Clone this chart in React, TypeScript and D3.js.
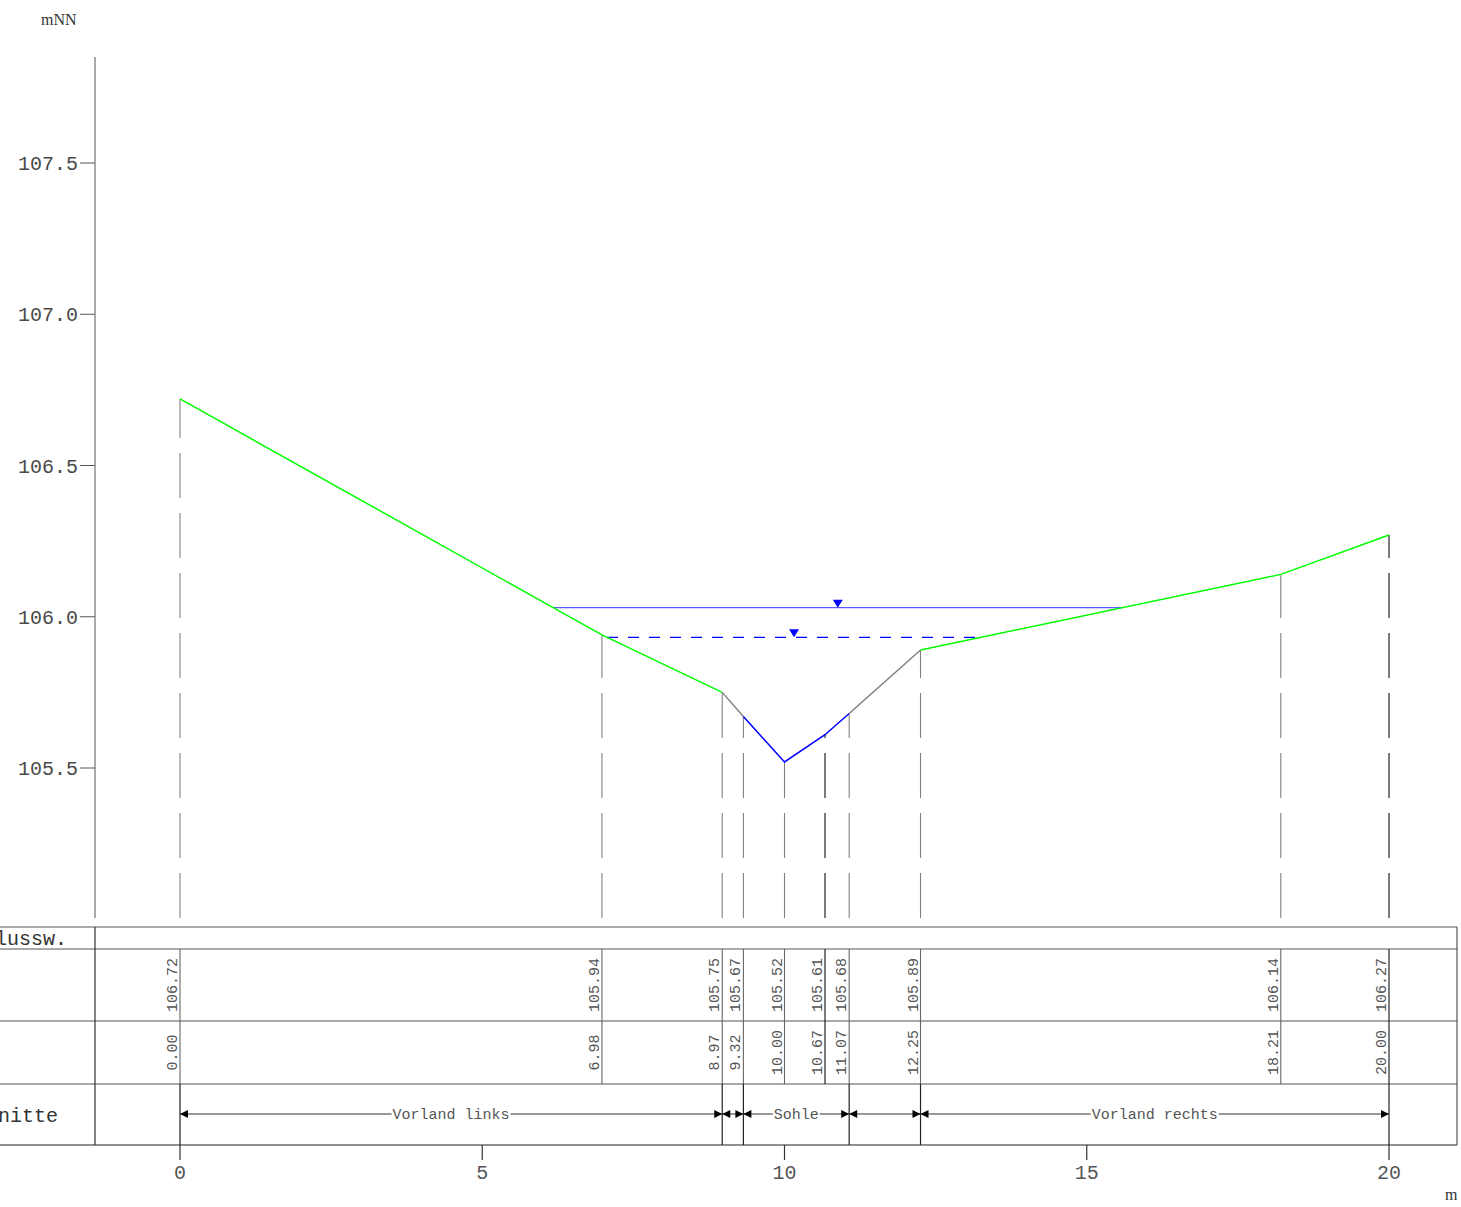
import React from "react";
import * as d3 from "d3";

const stations = [0, 6.98, 8.97, 9.32, 10.0, 10.67, 11.07, 12.25, 18.21, 20.0];
const elevations = [106.72, 105.94, 105.75, 105.67, 105.52, 105.61, 105.68, 105.89, 106.14, 106.27];
const sectionBounds = [0, 8.97, 9.32, 11.07, 12.25, 20];
const sectionNames = ["Vorland links", "", "Sohle", "", "Vorland rechts"];
const waterLevels = [106.03, 105.932];
const yTicks = [105.5, 106.0, 106.5, 107.0, 107.5];
const xTicks = [0, 5, 10, 15, 20];
const rowLabels = ["Flussw.", "", "", "Abschnitte"];

// styles
const sectionColors = ["#00ff00", "#808080", "#0000ff", "#808080", "#00ff00"];
const waterStyles = [
  { stroke: "#5a5aff", dash: "none" },
  { stroke: "#0000ff", dash: "11 10" },
];
const darkStations = [10.67, 20.0];
const MONO = "'Liberation Mono', 'DejaVu Sans Mono', monospace";
const SERIF = "'Liberation Serif', 'DejaVu Serif', serif";

const W = 1461;
const H = 1207;
const axisX = 95;
const axisTop = 57;
const plotBottom = 918;
const rowY = [927, 949, 1021, 1084, 1145];
const tableRight = 1457;
const rowLabelEnd = [67, 0, 0, 58];

function crossing(level: number) {
  const minI = d3.minIndex(elevations);
  let left = stations[0];
  for (let i = minI; i > 0; i--) {
    if (elevations[i - 1] >= level) {
      const t = (level - elevations[i]) / (elevations[i - 1] - elevations[i]);
      left = stations[i] + t * (stations[i - 1] - stations[i]);
      break;
    }
  }
  let right = stations[stations.length - 1];
  for (let i = minI; i < stations.length - 1; i++) {
    if (elevations[i + 1] >= level) {
      const t = (level - elevations[i]) / (elevations[i + 1] - elevations[i]);
      right = stations[i] + t * (stations[i + 1] - stations[i]);
      break;
    }
  }
  return [left, right];
}

export default function App() {
  const x = d3.scaleLinear().domain([0, 20]).range([180, 1389]);
  const y = d3.scaleLinear().domain([105.5, 107.5]).range([768, 163]);
  const line = d3
    .line<[number, number]>()
    .x((d) => x(d[0]))
    .y((d) => y(d[1]));

  const pts: [number, number][] = stations.map((s, i) => [s, elevations[i]]);

  const arrowY = 1114;
  const ah = 8;
  const aw = 4;

  return (
    <svg
      width={W}
      height={H}
      style={{ position: "absolute", left: 0, top: 0, background: "#fff" }}
    >
      <rect x={0} y={0} width={W} height={H} fill="#fff" />
      {/* y axis */}
      <line x1={axisX} y1={axisTop} x2={axisX} y2={plotBottom} stroke="#555" strokeWidth={1} />
      <text x={41} y={25} fontFamily={SERIF} fontSize={16} fill="#333">
        mNN
      </text>
      {yTicks.map((t) => (
        <g key={t}>
          <line x1={80} x2={axisX} y1={y(t)} y2={y(t)} stroke="#555" />
          <text
            x={78}
            y={y(t)}
            dy="0.35em"
            textAnchor="end"
            fontFamily={MONO}
            fontSize={20}
            fill="#4a4a4a"
          >
            {t.toFixed(1)}
          </text>
        </g>
      ))}

      {/* station vertical dashed lines */}
      {stations.map((s, i) => (
        <path
          key={"v" + s}
          d={`M${x(s)},${plotBottom} L${x(s)},${y(elevations[i])}`}
          stroke={darkStations.includes(s) ? "#111" : "#808080"}
          strokeWidth={1.1}
          strokeDasharray="45 15"
          fill="none"
        />
      ))}

      {/* water levels */}
      {waterLevels.map((w, i) => {
        const [l, r] = crossing(w);
        const mx = x((l + r) / 2);
        const yy = y(w);
        return (
          <g key={"w" + i}>
            <line
              x1={x(l)}
              x2={x(r)}
              y1={yy}
              y2={yy}
              stroke={waterStyles[i].stroke}
              strokeWidth={1.2}
              strokeDasharray={waterStyles[i].dash}
            />
            <path d={`M${mx - 5},${yy - 8} L${mx + 5},${yy - 8} L${mx},${yy} Z`} fill="#0000ff" />
          </g>
        );
      })}

      {/* ground */}
      {sectionNames.map((_, si) => {
        const a = sectionBounds[si];
        const b = sectionBounds[si + 1];
        const seg = pts.filter((p) => p[0] >= a - 1e-9 && p[0] <= b + 1e-9);
        return (
          <path
            key={"g" + si}
            d={line(seg) || ""}
            stroke={sectionColors[si]}
            strokeWidth={1.5}
            fill="none"
          />
        );
      })}

      {/* table */}
      {rowY.map((ry, i) => (
        <line
          key={"h" + i}
          x1={0}
          x2={tableRight}
          y1={ry}
          y2={ry}
          stroke={i === rowY.length - 1 ? "#222" : "#555"}
          strokeWidth={1.2}
        />
      ))}
      <line x1={tableRight} x2={tableRight} y1={rowY[0]} y2={rowY[4]} stroke="#555" strokeWidth={1.2} />
      <line x1={axisX} x2={axisX} y1={rowY[0]} y2={rowY[4]} stroke="#333" strokeWidth={1.2} />
      {rowLabels.map((lab, i) =>
        lab ? (
          <text
            key={"rl" + i}
            x={rowLabelEnd[i]}
            y={(rowY[i] + rowY[i + 1]) / 2}
            dy="0.35em"
            textAnchor="end"
            fontFamily={MONO}
            fontSize={20}
            fill="#333"
          >
            {lab}
          </text>
        ) : null
      )}
      {stations.map((s, i) => (
        <g key={"t" + s}>
          <line
            x1={x(s)}
            x2={x(s)}
            y1={rowY[1]}
            y2={rowY[3]}
            stroke={darkStations.includes(s) ? "#111" : "#666"}
            strokeWidth={1.1}
          />
          <text
            transform={`translate(${x(s) - 3},${(rowY[1] + rowY[2]) / 2}) rotate(-90)`}
            textAnchor="middle"
            fontFamily={MONO}
            fontSize={15}
            fill="#555"
          >
            {elevations[i].toFixed(2)}
          </text>
          <text
            transform={`translate(${x(s) - 3},${(rowY[2] + rowY[3]) / 2}) rotate(-90)`}
            textAnchor="middle"
            fontFamily={MONO}
            fontSize={15}
            fill="#555"
          >
            {s.toFixed(2)}
          </text>
        </g>
      ))}

      {/* sections */}
      {sectionBounds.map((b) => (
        <line
          key={"sb" + b}
          x1={x(b)}
          x2={x(b)}
          y1={rowY[3]}
          y2={rowY[4]}
          stroke="#222"
          strokeWidth={1.2}
        />
      ))}
      {sectionNames.map((name, si) => {
        const a = x(sectionBounds[si]);
        const b = x(sectionBounds[si + 1]);
        const mid = (a + b) / 2;
        const tw = name.length * 9;
        return (
          <g key={"s" + si}>
            <line x1={a} x2={b} y1={arrowY} y2={arrowY} stroke="#333" strokeWidth={1} />
            <path d={`M${a},${arrowY} L${a + ah},${arrowY - aw} L${a + ah},${arrowY + aw} Z`} fill="#000" />
            <path d={`M${b},${arrowY} L${b - ah},${arrowY - aw} L${b - ah},${arrowY + aw} Z`} fill="#000" />
            {name ? (
              <>
                <rect x={mid - tw / 2 - 1} y={arrowY - 8} width={tw + 2} height={16} fill="#fff" />
                <text
                  x={mid}
                  y={arrowY}
                  dy="0.35em"
                  textAnchor="middle"
                  fontFamily={MONO}
                  fontSize={15}
                  fill="#555"
                >
                  {name}
                </text>
              </>
            ) : null}
          </g>
        );
      })}

      {/* x axis */}
      {xTicks.map((t) => (
        <g key={"x" + t}>
          <line x1={x(t)} x2={x(t)} y1={rowY[4]} y2={1160} stroke="#333" strokeWidth={1.2} />
          <text
            x={x(t)}
            y={1172}
            dy="0.35em"
            textAnchor="middle"
            fontFamily={MONO}
            fontSize={20}
            fill="#555"
          >
            {t}
          </text>
        </g>
      ))}
      <text x={1445} y={1200} fontFamily={SERIF} fontSize={16} fill="#333">
        m
      </text>
    </svg>
  );
}
